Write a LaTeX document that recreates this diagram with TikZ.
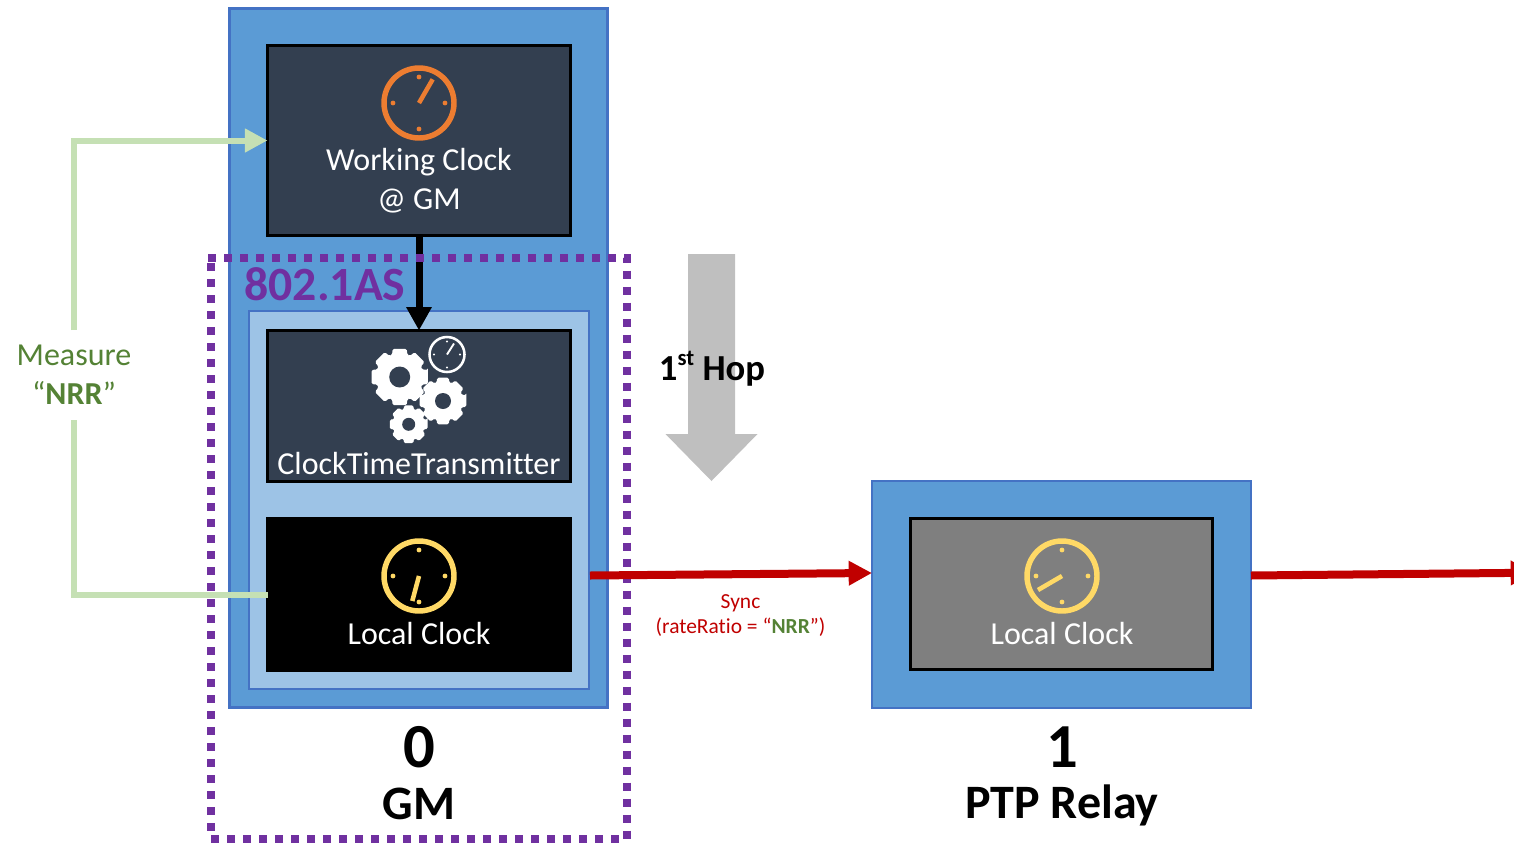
\documentclass[tikz,border=0pt]{standalone}
\usepackage{fontspec}
\setmainfont[Ligatures=NoCommon]{Carlito}
\usetikzlibrary{arrows.meta,positioning}
\definecolor{midblue}{HTML}{5B9BD5}
\definecolor{edgeblue}{HTML}{4472C4}
\definecolor{lightblue}{HTML}{9DC3E6}
\definecolor{darkslate}{HTML}{333F50}
\definecolor{clockorange}{HTML}{ED7D31}
\definecolor{clockyellow}{HTML}{FFD966}
\definecolor{paleg}{HTML}{C5E0B4}
\definecolor{darkg}{HTML}{548235}
\definecolor{purp}{HTML}{7030A0}
\definecolor{redd}{HTML}{C00000}
\definecolor{midgray}{HTML}{7F7F7F}
\definecolor{hopgray}{HTML}{BFBFBF}
\tikzset{
  pane/.style={draw=edgeblue,line width=1.9pt,fill=#1,inner sep=0pt,outer sep=0pt},
  panel/.style={draw=black,line width=1.8pt,fill=#1,inner sep=0pt,outer sep=0pt},
  label/.style={inner sep=0pt,outer sep=0pt,align=center},
  boxtext/.style={label,text=white,font=\fontsize{24}{29.25}\selectfont},
  greenlink/.style={draw=paleg,line width=4.5pt},
  redlink/.style={draw=redd,line width=6pt,-{Triangle[length=17.5pt,width=17.5pt]}},
}
% centre x, y, outer radius, ring width, hand dx, dy, hand width, dot radius, dot distance, colour
\newcommand{\clockface}[9]{%
  \begin{scope}[shift={(#1,#2)}]
    \draw[#9,line width=#4pt] (0,0) circle (#3);
    \foreach \a in {0,90,180,270} \fill[#9] (\a:#8) circle (#7);
    \draw[#9,line width=#6pt] (0,0) -- (#5);
  \end{scope}}
% centre x, y, tip radius, root radius, hole radius
\newcommand{\gearshape}[5]{%
  \begin{scope}[shift={(#1,#2)}]
    \fill[white,rounded corners=1.1pt] (-14:#3)
      \foreach \g in {0,45,...,315} {
        -- (\g-14:#3) -- (\g+14:#3) -- (\g+19:#4) -- (\g+26:#4)
      } -- cycle;
    \fill[darkslate] (0,0) circle (#5);
  \end{scope}}
\begin{document}
\begin{tikzpicture}[x=0.75pt,y=-0.75pt]
\useasboundingbox (0,0) rectangle (1514,843);
\clip (0,0) rectangle (1514,843);

% blue station boxes
\node[pane=midblue,minimum width=283.5pt,minimum height=524.25pt] (gm) at (418.75,358.25) {};
\node[pane=lightblue,minimum width=255pt,minimum height=283.5pt] (stack) at (419,500) {};
\node[pane=midblue,minimum width=284.25pt,minimum height=170.25pt] (relay) at (1061.5,594.5) {};

% inner panels
\node[panel=darkslate,minimum width=227.25pt,minimum height=142.5pt] (work) at (419,140.5) {};
\node[panel=darkslate,minimum width=227.25pt,minimum height=113.25pt] (ctt) at (419,406) {};
\node[panel=black,minimum width=227.25pt,minimum height=114pt] (local) at (419,594.5) {};
\node[panel=midgray,minimum width=226.5pt,minimum height=113.25pt] (rlocal) at (1061.5,594) {};

% clocks and gears
\clockface{419}{103}{35}{4.1}{13.7,-23.7}{3.4}{2.4}{26}{clockorange}
\clockface{419}{576}{35}{4.1}{-6.7,25}{3.4}{2.4}{26}{clockyellow}
\clockface{1062}{576}{35}{4.1}{-24,14}{3.4}{2.4}{26}{clockyellow}
\clockface{447}{354.5}{17.5}{1.9}{7,-11}{1.4}{1.1}{13}{white}
\gearshape{399.7}{377}{29}{23.5}{10.5}
\gearshape{443}{401}{24}{19.5}{8}
\gearshape{408.7}{424.3}{19.5}{15.5}{6.5}

% panel texts
\node[boxtext] (worktext) at (419,180.5) {Working Clock\\@ GM};
\node[boxtext] (ctttext) at (419,463) {ClockTimeTransmitter};
\node[boxtext] (localtext) at (419,633) {Local Clock};
\node[boxtext] (rlocaltext) at (1062,633) {Local Clock};

% 1st hop block arrow
\fill[hopgray] (688,254) -- (735,254) -- (735,434) -- (757.5,434) -- (711.5,481) -- (665.5,434) -- (688,434) -- cycle;
\node[label,font=\fontsize{27.5}{33}\selectfont\bfseries] (hop) at (712,369) {1\raisebox{0.42em}{\fontsize{17}{20}\selectfont st} Hop};

% measure loop
\node[label,text=darkg,fill=white,minimum height=67.5pt,minimum width=90pt,font=\fontsize{24}{29.25}\selectfont] (measure) at (74,375) {Measure\\“\textbf{NRR}”};
\draw[greenlink] (local.west) -| (measure.south);
\draw[greenlink,-{Triangle[length=17pt,width=17pt]}] (measure.north) |- (work.west);

% black arrow
\draw[line width=5.25pt,-{Triangle[length=17.5pt,width=18pt]}] (work.south) -- (ctt.north);

% 802.1AS scope
\node[label,text=purp,font=\fontsize{35.8}{42}\selectfont\bfseries] (as) at (325,284) {802.1AS};
\draw[purp,line width=6pt,dash pattern=on 6pt off 6pt] (208,257.5) -- (627,257.5) -- (627,838.5) -- (211,838.5) -- (211,257.5);

% Sync arrows
\coordinate (gmport) at (590,575.5);
\coordinate (relayport) at (1251,575.5);
\coordinate (nextnode) at (1534,572.7);
\coordinate (relayin) at (872,573);
\draw[redlink] (gmport) -- (relayin);
\draw[redlink] (relayport) -- (nextnode);
\node[label,text=redd,font=\fontsize{16.1}{18.75}\selectfont] (sync) at (740.5,616) {Sync\\(rateRatio = “{\color{darkg}\textbf{NRR}}”)};

% captions
\node[label,font=\fontsize{47}{52}\selectfont\bfseries] (zero) at (419,747) {0};
\node[label,font=\fontsize{36}{42}\selectfont\bfseries] (gmname) at (419,804) {GM};
\node[label,font=\fontsize{47}{52}\selectfont\bfseries] (one) at (1062,747) {1};
\node[label,font=\fontsize{36}{42}\selectfont\bfseries] (relayname) at (1062,805.5) {PTP Relay};
\end{tikzpicture}
\end{document}
